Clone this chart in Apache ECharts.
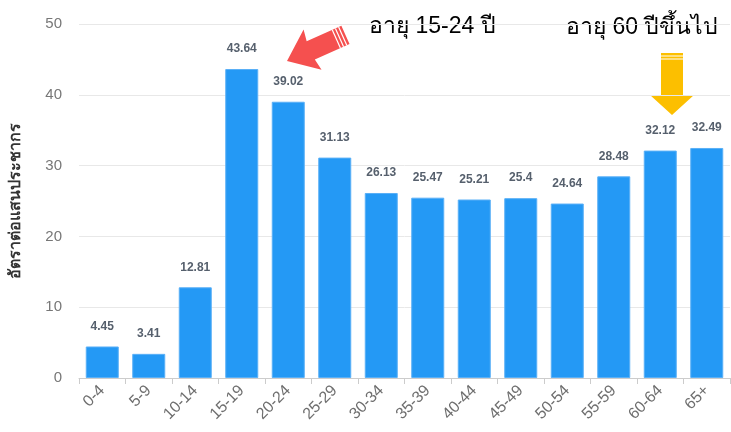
<!DOCTYPE html>
<html><head><meta charset="utf-8">
<script src="https://cdn.jsdelivr.net/npm/echarts@6/dist/echarts.min.js"></script>
<style>html,body{margin:0;padding:0;background:#fff}#c{width:731px;height:432px}</style>
</head><body><div id="c"></div>
<script>
const categories = ['0-4','5-9','10-14','15-19','20-24','25-29','30-34','35-39','40-44','45-49','50-54','55-59','60-64','65+'];
const rates = [4.45, 3.41, 12.81, 43.64, 39.02, 31.13, 26.13, 25.47, 25.21, 25.4, 24.64, 28.48, 32.12, 32.49];
const yTicks = {min: 0, max: 50, interval: 10};
const yName = 'อัตราต่อแสนประชากร';
const note1 = 'อายุ 15-24 ปี';
const note2 = 'อายุ 60 ปีขึ้นไป';

const FONT = 'Arial, "Liberation Sans", "Noto Sans", sans-serif';
const chart = echarts.init(document.getElementById('c'), null, {renderer: 'canvas'});

// red arrow in local coords pointing left (tip at origin)
const redArrow = [[0,0],[28,-22],[26,-10],[64,-10],[64,10],[26,10],[28,22]];

chart.setOption({
  animation: false,
  grid: {left: 74, right: 1, top: 24, bottom: 54, containLabel: false},
  xAxis: {
    type: 'category', data: categories,
    axisLine: {lineStyle: {color: '#cccccc'}},
    axisTick: {show: true, length: 6, lineStyle: {color: '#cccccc'}},
    axisLabel: {rotate: 45, fontSize: 16, color: '#6e6e6e', margin: 10, fontFamily: FONT, interval: 0}
  },
  yAxis: {
    type: 'value', min: yTicks.min, max: yTicks.max, interval: yTicks.interval,
    name: yName, nameLocation: 'middle', nameGap: 55, nameRotate: 90,
    nameTextStyle: {fontSize: 16, fontWeight: 'bold', color: '#333', fontFamily: FONT},
    axisLine: {show: false}, axisTick: {show: false},
    axisLabel: {fontSize: 15, color: '#777', margin: 17, fontFamily: FONT},
    splitLine: {lineStyle: {color: '#e8e8e8'}}
  },
  series: [{
    type: 'bar', data: rates, barWidth: 33,
    itemStyle: {color: '#2499f5', borderColor: '#5ab0f7', borderWidth: 1},
    label: {show: true, position: 'top', distance: 14, fontSize: 12, fontWeight: 'bold', color: '#56606d', fontFamily: FONT}
  }],
  graphic: [
    {type: 'text', left: 369, top: 15, style: {text: note1, fontSize: 23, fill: '#000', fontFamily: FONT}},
    {type: 'text', left: 566, top: 16, style: {text: note2, fontSize: 23, fill: '#000', fontFamily: FONT}},
    {type: 'group', x: 287, y: 61, rotation: 0.42, children: [
      {type: 'polygon', shape: {points: redArrow}, style: {fill: '#f5504f'}},
      {type: 'line', shape: {x1: 54, y1: -10, x2: 54, y2: 10}, style: {stroke: '#fff', lineWidth: 1.2}},
      {type: 'line', shape: {x1: 57.5, y1: -10, x2: 57.5, y2: 10}, style: {stroke: '#fff', lineWidth: 1.2}},
      {type: 'line', shape: {x1: 61, y1: -10, x2: 61, y2: 10}, style: {stroke: '#fff', lineWidth: 1.2}}
    ]},
    {type: 'group', x: 672, y: 115, children: [
      {type: 'polygon', shape: {points: [[0,0],[-22,-20],[-11,-20],[-11,-62],[11,-62],[11,-20],[22,-20]]}, style: {fill: '#fcbf00'}},
      {type: 'line', shape: {x1: -11, y1: -59, x2: 11, y2: -59}, style: {stroke: '#fff', lineWidth: 1}},
      {type: 'line', shape: {x1: -11, y1: -56, x2: 11, y2: -56}, style: {stroke: '#fff', lineWidth: 1}}
    ]}
  ]
});
</script></body></html>
